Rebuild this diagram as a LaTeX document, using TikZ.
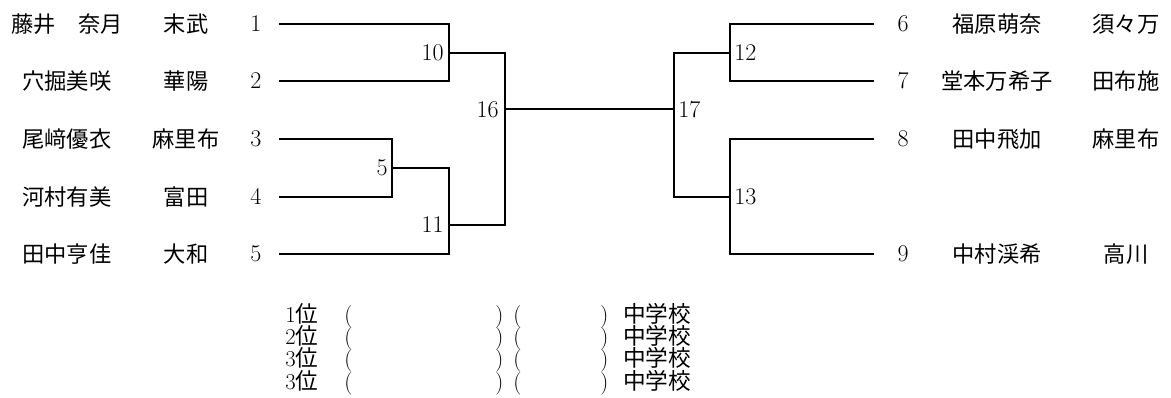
\documentclass[tikz,border=0pt]{standalone}
\usepackage{fontspec}
\newfontfamily\jp{Noto Sans CJK JP}
\begin{document}
\begin{tikzpicture}[x=0.75pt,y=-0.75pt,
  bline/.style={line width=1.5pt, line join=miter},
  num/.style={font=\fontsize{18}{18}\selectfont, inner sep=0pt},
  pname/.style={font=\jp\fontsize{16.7}{18}\selectfont, inner sep=0pt},
  res/.style={font=\fontsize{17}{17}\selectfont, inner sep=0pt, anchor=base west}]
\useasboundingbox (0,0) rectangle (1171,398);

% rows
\def\rA{24}\def\rB{81}\def\rC{138.7}\def\rD{196.7}\def\rE{254}

% left player labels
\node[pname] (n1) at (67,\rA) {藤井　奈月};
\node[pname] (s1) at (186,\rA) {末武};
\node[num]   (k1) at (256,\rA) {1};
\node[pname] (n2) at (67,\rB) {穴掘美咲};
\node[pname] (s2) at (186,\rB) {華陽};
\node[num]   (k2) at (256,\rB) {2};
\node[pname] (n3) at (67,\rC) {尾﨑優衣};
\node[pname] (s3) at (186,\rC) {麻里布};
\node[num]   (k3) at (256,\rC) {3};
\node[pname] (n4) at (67,\rD) {河村有美};
\node[pname] (s4) at (186,\rD) {富田};
\node[num]   (k4) at (256,\rD) {4};
\node[pname] (n5) at (67,\rE) {田中亨佳};
\node[pname] (s5) at (186,\rE) {大和};
\node[num]   (k5) at (256,\rE) {5};

% right player labels
\node[num]   (k6) at (903,\rA) {6};
\node[pname] (n6) at (997,\rA) {福原萌奈};
\node[pname] (s6) at (1126,\rA) {須々万};
\node[num]   (k7) at (903,\rB) {7};
\node[pname] (n7) at (997,\rB) {堂本万希子};
\node[pname] (s7) at (1126,\rB) {田布施};
\node[num]   (k8) at (903,\rC) {8};
\node[pname] (n8) at (997,\rC) {田中飛加};
\node[pname] (s8) at (1126,\rC) {麻里布};
\node[num]   (k9) at (903,\rE) {9};
\node[pname] (n9) at (997,\rE) {中村渓希};
\node[pname] (s9) at (1126,\rE) {高川};

% coordinates of the bracket
\coordinate (a1) at (279,\rA); \coordinate (b1) at (449,\rA);
\coordinate (a2) at (279,\rB); \coordinate (b2) at (449,\rB);
\coordinate (a3) at (279,\rC); \coordinate (b3) at (392,\rC);
\coordinate (a4) at (279,\rD); \coordinate (b4) at (392,\rD);
\coordinate (a5) at (279,\rE); \coordinate (b5) at (449,\rE);
\coordinate (m5) at (392,168);  \coordinate (m5r) at (449,168);
\coordinate (m10) at (449,52.7); \coordinate (m10r) at (505,52.7);
\coordinate (m11) at (449,224.7); \coordinate (m11r) at (505,224.7);
\coordinate (m16) at (505,109.3); \coordinate (m17) at (674,109.3);
\coordinate (t17) at (674,52.7); \coordinate (u17) at (674,196.7);
\coordinate (m12) at (730,52.7); \coordinate (m13) at (730,196.7);
\coordinate (c6) at (874,\rA); \coordinate (d6) at (730,\rA);
\coordinate (c7) at (874,\rB); \coordinate (d7) at (730,\rB);
\coordinate (c8) at (874,\rC); \coordinate (d8) at (730,\rC);
\coordinate (c9) at (874,\rE); \coordinate (d9) at (730,\rE);

\draw[bline] (a1) -- (b1) -- (b2) -- (a2);
\draw[bline] (a3) -- (b3) -- (b4) -- (a4);
\draw[bline] (m5) -- (m5r) -- (b5) -- (a5);
\draw[bline] (m10) -- (m10r) -- (m11r) -- (m11);
\draw[bline] (m16) -- (m17);
\draw[bline] (m12) -- (t17) -- (u17) -- (m13);
\draw[bline] (c6) -- (d6) -- (d7) -- (c7);
\draw[bline] (c8) -- (d8) -- (d9) -- (c9);

% match numbers
\node[num, anchor=east] (g10) at (444,52.7) {10};
\node[num, anchor=east] (g16) at (499,109.3) {16};
\node[num, anchor=east] (g5)  at (388,168) {5};
\node[num, anchor=east] (g11) at (444,224.7) {11};
\node[num, anchor=west] (g17) at (678,109.3) {17};
\node[num, anchor=west] (g12) at (734,52.7) {12};
\node[num, anchor=west] (g13) at (734,196.7) {13};

% results
\foreach \i/\p/\yy in {1/1/322.5, 2/2/344.8, 3/3/367, 4/3/389.3} {
  \node[res] (r\i a) at (285,\yy) {\p\jp 位};
  \node[res] (r\i b) at (344,\yy) {(};
  \node[res] (r\i c) at (495,\yy) {)};
  \node[res] (r\i d) at (513,\yy) {(};
  \node[res] (r\i e) at (600,\yy) {)};
  \node[res] (r\i f) at (623,\yy) {\jp 中学校};
}
\end{tikzpicture}
\end{document}
